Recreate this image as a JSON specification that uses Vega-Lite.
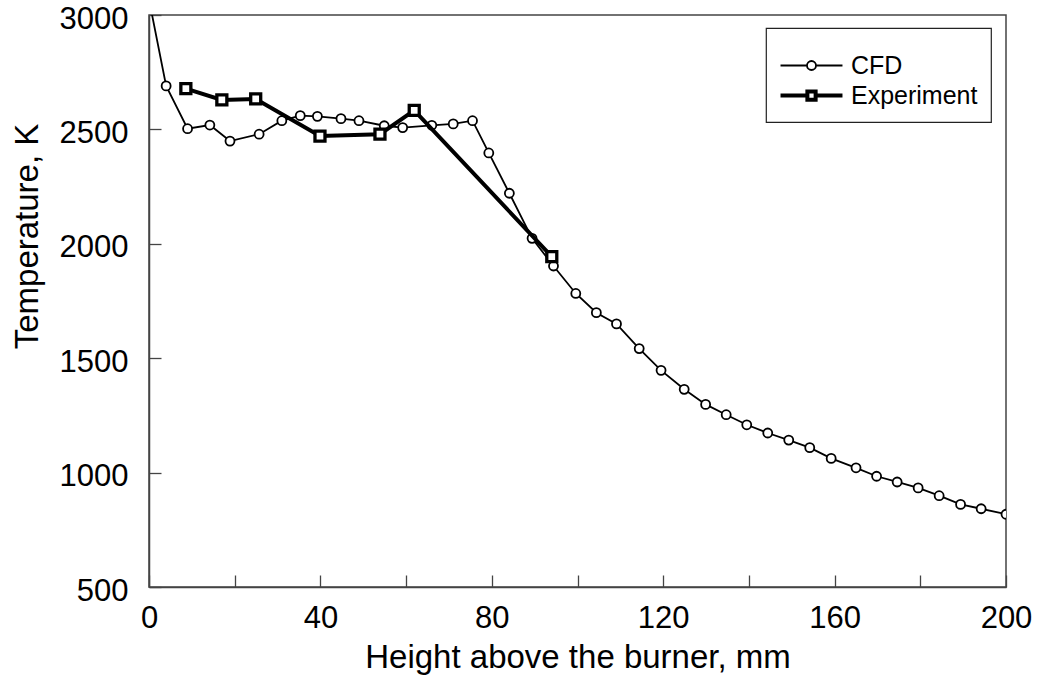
{
  "$schema": "https://vega.github.io/schema/vega-lite/v6.json",
  "width": 857,
  "height": 572,
  "autosize": {"type": "none"},
  "padding": {"left": 149, "top": 15, "right": 32, "bottom": 93},
  "background": "white",
  "config": {
    "view": {"stroke": "#444", "strokeWidth": 1.5},
    "axis": {
      "domainColor": "#444", "domainWidth": 1.5,
      "tickColor": "#444", "tickWidth": 1.3,
      "grid": false,
      "labelFont": "Liberation Sans", "labelFontSize": 31, "labelColor": "black",
      "titleFont": "Liberation Sans", "titleFontSize": 33, "titleFontWeight": "normal", "titleColor": "black"
    }
  },
  "data": {
    "values": [
      {"series": "CFD", "x": 0, "T": 3068},
      {"series": "CFD", "x": 4.0, "T": 2690},
      {"series": "CFD", "x": 9.0, "T": 2503},
      {"series": "CFD", "x": 14.2, "T": 2519},
      {"series": "CFD", "x": 18.9, "T": 2449},
      {"series": "CFD", "x": 25.7, "T": 2479},
      {"series": "CFD", "x": 31.0, "T": 2538},
      {"series": "CFD", "x": 35.3, "T": 2560},
      {"series": "CFD", "x": 39.3, "T": 2557},
      {"series": "CFD", "x": 44.8, "T": 2547},
      {"series": "CFD", "x": 49.0, "T": 2538},
      {"series": "CFD", "x": 54.9, "T": 2516},
      {"series": "CFD", "x": 59.2, "T": 2508},
      {"series": "CFD", "x": 66.0, "T": 2518},
      {"series": "CFD", "x": 71.0, "T": 2524},
      {"series": "CFD", "x": 75.5, "T": 2538},
      {"series": "CFD", "x": 79.3, "T": 2397},
      {"series": "CFD", "x": 84.1, "T": 2221},
      {"series": "CFD", "x": 89.4, "T": 2024},
      {"series": "CFD", "x": 94.4, "T": 1903},
      {"series": "CFD", "x": 99.6, "T": 1783},
      {"series": "CFD", "x": 104.4, "T": 1699},
      {"series": "CFD", "x": 109.1, "T": 1650},
      {"series": "CFD", "x": 114.4, "T": 1542},
      {"series": "CFD", "x": 119.5, "T": 1447},
      {"series": "CFD", "x": 124.9, "T": 1364},
      {"series": "CFD", "x": 129.9, "T": 1298},
      {"series": "CFD", "x": 134.7, "T": 1253},
      {"series": "CFD", "x": 139.5, "T": 1209},
      {"series": "CFD", "x": 144.4, "T": 1173},
      {"series": "CFD", "x": 149.3, "T": 1142},
      {"series": "CFD", "x": 154.2, "T": 1109},
      {"series": "CFD", "x": 159.2, "T": 1062},
      {"series": "CFD", "x": 165.0, "T": 1021},
      {"series": "CFD", "x": 169.8, "T": 984},
      {"series": "CFD", "x": 174.6, "T": 959},
      {"series": "CFD", "x": 179.5, "T": 933},
      {"series": "CFD", "x": 184.4, "T": 899},
      {"series": "CFD", "x": 189.4, "T": 861},
      {"series": "CFD", "x": 194.2, "T": 842},
      {"series": "CFD", "x": 200.0, "T": 818},
      {"series": "Experiment", "x": 8.6, "T": 2678},
      {"series": "Experiment", "x": 17.0, "T": 2629},
      {"series": "Experiment", "x": 24.9, "T": 2633},
      {"series": "Experiment", "x": 39.9, "T": 2471},
      {"series": "Experiment", "x": 53.9, "T": 2479},
      {"series": "Experiment", "x": 61.9, "T": 2583},
      {"series": "Experiment", "x": 94.0, "T": 1944}
    ]
  },
  "encoding": {
    "x": {
      "field": "x", "type": "quantitative",
      "scale": {"domain": [0, 200], "nice": false},
      "axis": {
        "title": "Height above the burner, mm",
        "values": [0, 20, 40, 60, 80, 100, 120, 140, 160, 180, 200],
        "format": "d",
        "labelExpr": "datum.value % 40 === 0 ? datum.label : ''",
        "tickSize": -12,
        "labelPadding": 28,
        "labelFlush": false,
        "labelOverlap": false,
        "titleY": 80,
        "titleBaseline": "alphabetic",
        "encode": {"ticks": {"update": {"y2": {"signal": "datum.value % 40 === 0 ? -12 : -6"}}}}
      }
    },
    "y": {
      "field": "T", "type": "quantitative",
      "scale": {"domain": [500, 3000], "nice": false, "zero": false},
      "axis": {
        "title": "Temperature, K",
        "values": [500, 1000, 1500, 2000, 2500, 3000],
        "format": "d",
        "tickSize": -12,
        "labelPadding": 33,
        "labelOffset": 4,
        "labelFlush": false,
        "labelOverlap": false,
        "titleX": -112,
        "titleY": 221,
        "titleAlign": "center",
        "titleAngle": -90,
        "titleBaseline": "alphabetic"
      }
    }
  },
  "layer": [
    {
      "transform": [{"filter": "datum.series === 'CFD'"}],
      "mark": {"type": "line", "clip": true, "strokeWidth": 1.8},
      "encoding": {
        "color": {
          "field": "series", "type": "nominal",
          "scale": {"domain": ["CFD", "Experiment"], "range": ["black", "black"]},
          "legend": {
            "title": " ",
            "titleFontSize": 11,
            "titlePadding": 1,
            "orient": "none",
            "legendX": 617,
            "legendY": 13,
            "strokeColor": "#222",
            "fillColor": "white",
            "padding": 13,
            "rowPadding": 4,
            "labelFont": "Liberation Sans",
            "labelFontSize": 25,
            "labelColor": "black",
            "symbolSize": 225,
            "symbolOffset": 20,
            "labelOffset": 27,
            "encode": {
              "legend": {"update": {"strokeWidth": {"value": 1.2}}},
              "symbols": {
                "update": {
                  "shape": {"signal": "datum.value === 'CFD' ? 'M-4.13,0L-0.6,0M0.6,0L4.13,0M0.6,0A0.6,0.6,0,1,1,-0.6,0A0.6,0.6,0,1,1,0.6,0Z' : 'M-4.13,0L-0.55,0M0.55,0L4.13,0M-0.55,-0.55L0.55,-0.55L0.55,0.55L-0.55,0.55Z'"},
                  "strokeWidth": {"signal": "datum.value === 'CFD' ? 1.8 : 4"},
                  "fill": {"value": "white"},
                  "fillOpacity": {"value": 1},
                  "stroke": {"value": "black"},
                  "size": {"value": 225}
                }
              }
            }
          }
        }
      }
    },
    {
      "transform": [{"filter": "datum.series === 'CFD'"}],
      "mark": {"type": "point", "shape": "circle", "size": 81, "filled": true, "fill": "white", "stroke": "black", "strokeWidth": 1.8, "opacity": 1, "clip": true}
    },
    {
      "transform": [{"filter": "datum.series === 'Experiment'"}],
      "mark": {"type": "line", "clip": true, "strokeWidth": 4, "color": "black"}
    },
    {
      "transform": [{"filter": "datum.series === 'Experiment'"}],
      "mark": {"type": "point", "shape": "square", "size": 100, "filled": true, "fill": "white", "stroke": "black", "strokeWidth": 3.3, "opacity": 1, "clip": true}
    }
  ]
}
